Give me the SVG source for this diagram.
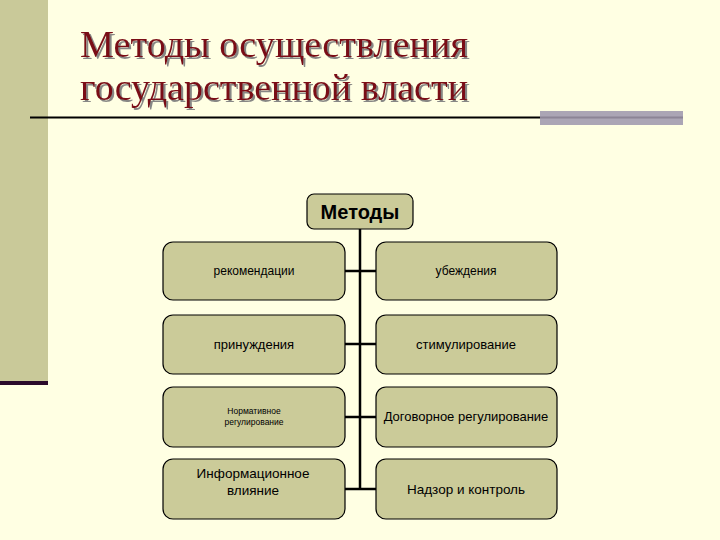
<svg xmlns="http://www.w3.org/2000/svg" width="720" height="540" viewBox="0 0 720 540">
<defs>
<filter id="sh" x="-5%" y="-20%" width="115%" height="150%">
<feDropShadow dx="2" dy="2" stdDeviation="0.6" flood-color="#7a7a7a" flood-opacity="0.9"/>
</filter>
</defs>
<style>
.box{fill:#CBCB99;stroke:#000;stroke-width:1.2}
.t{font-family:"Liberation Sans",Arial,sans-serif;fill:#000;text-anchor:middle}
.ttl{font-family:"Liberation Serif","Times New Roman",serif;font-size:38px;fill:#7A0C16}
.conn{stroke:#000;stroke-width:2.5;fill:none}
</style>
<rect x="0" y="0" width="720" height="540" fill="#FFFFE3"/>
<rect x="0" y="0" width="48" height="381" fill="#C9C999"/>
<rect x="0" y="381" width="48" height="4" fill="#2A0A2A"/>
<g id="title" filter="url(#sh)">
<text class="ttl" x="80" y="57" textLength="388" lengthAdjust="spacingAndGlyphs">Методы осуществления</text>
<text class="ttl" x="80" y="100" textLength="388" lengthAdjust="spacingAndGlyphs">государственной власти</text>
</g>
<line x1="30" y1="117.5" x2="541" y2="117.5" stroke="#000" stroke-width="2"/>
<rect x="540" y="111" width="143" height="14" fill="#ABA5B5"/>
<line x1="540" y1="117.5" x2="683" y2="117.5" stroke="#8C8496" stroke-width="2"/>
<g id="connectors">
<line class="conn" x1="360" y1="229" x2="360" y2="490"/>
<line class="conn" x1="345" y1="271" x2="376" y2="271"/>
<line class="conn" x1="345" y1="344" x2="376" y2="344"/>
<line class="conn" x1="345" y1="417" x2="376" y2="417"/>
<line class="conn" x1="345" y1="489" x2="376" y2="489"/>
</g>
<g id="root">
<rect class="box" x="307" y="194" width="106" height="35" rx="7"/>
<text class="t" x="360" y="219" font-size="20" font-weight="bold">Методы</text>
</g>
<g id="n1">
<rect class="box" x="163" y="242" width="182" height="58" rx="10"/>
<text class="t" x="254" y="275" font-size="12">рекомендации</text>
</g>
<g id="n2">
<rect class="box" x="376" y="242" width="181" height="58" rx="10"/>
<text class="t" x="466" y="275" font-size="12">убеждения</text>
</g>
<g id="n3">
<rect class="box" x="163" y="315" width="182" height="59" rx="10"/>
<text class="t" x="254" y="349" font-size="13">принуждения</text>
</g>
<g id="n4">
<rect class="box" x="376" y="315" width="181" height="59" rx="10"/>
<text class="t" x="466" y="349" font-size="13">стимулирование</text>
</g>
<g id="n5">
<rect class="box" x="163" y="387" width="182" height="60" rx="10"/>
<text class="t" x="254" y="414" font-size="8.5">Нормативное</text>
<text class="t" x="254" y="425" font-size="8.5">регулирование</text>
</g>
<g id="n6">
<rect class="box" x="376" y="387" width="181" height="60" rx="10"/>
<text class="t" x="466" y="421" font-size="13">Договорное регулирование</text>
</g>
<g id="n7">
<rect class="box" x="163" y="459" width="182" height="60" rx="10"/>
<text class="t" x="253" y="478" font-size="13.5">Информационное</text>
<text class="t" x="253" y="495" font-size="13.5">влияние</text>
</g>
<g id="n8">
<rect class="box" x="376" y="459" width="181" height="60" rx="10"/>
<text class="t" x="466" y="494" font-size="13.5">Надзор и контроль</text>
</g>
</svg>
